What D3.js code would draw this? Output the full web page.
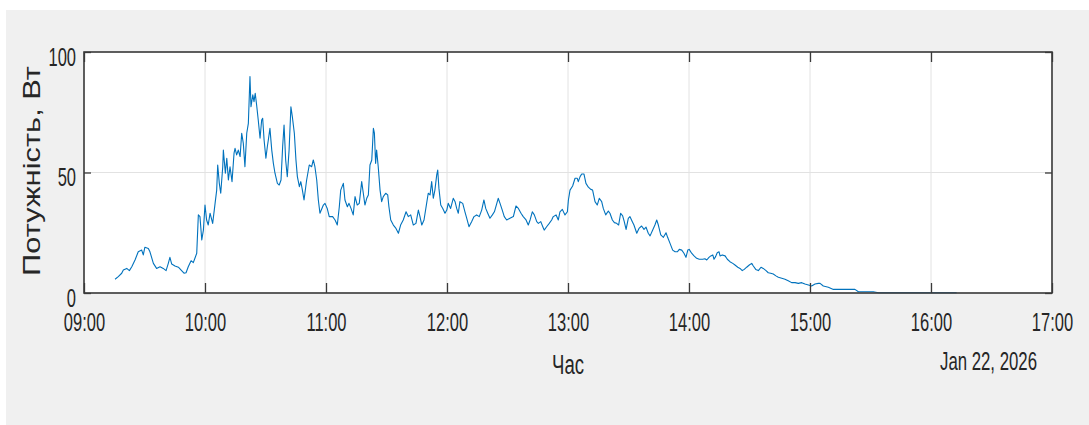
<!DOCTYPE html>
<html>
<head>
<meta charset="utf-8">
<script src="https://cdn.jsdelivr.net/npm/d3@7"></script>
<style>
  body { margin: 0; background: #ffffff; }
  svg { display: block; }
  text { font-family: "Liberation Sans", Arial, sans-serif; fill: #262626; }
</style>
</head>
<body>
<svg id="chart" width="1089" height="425"></svg>
<script>
// Power readings for 22 Jan 2026: minutes after 09:00 and watts
const offsetMin = [
  15.4, 17.0, 18.7, 19.5, 21.2, 22.5, 23.7, 25.3, 26.9, 28.6, 29.4, 30.2, 31.9, 32.7, 34.4, 36.0, 37.7, 39.3, 40.7, 41.8,
  42.6, 43.5, 45.1, 46.8, 48.4, 49.6, 50.6, 51.7, 53.1, 54.2, 55.0, 55.9, 56.7, 57.5, 58.4, 59.2, 60.0, 60.8, 61.6, 62.5,
  63.8, 65.0, 65.8, 66.3, 67.1, 67.8, 68.8, 69.1, 70.1, 70.8, 71.6, 72.4, 73.4, 74.4, 74.9, 75.7, 76.5, 77.4, 78.2, 79.0,
  79.8, 80.7, 81.5, 82.3, 82.8, 83.7, 84.3, 84.9, 85.6, 86.4, 87.3, 88.1, 88.6, 89.3, 90.2, 90.9, 91.4, 92.2, 93.1, 93.9,
  94.7, 95.9, 96.8, 97.7, 98.5, 99.2, 100.0, 100.8, 101.7, 102.6, 103.3, 104.3, 105.1, 105.8, 106.8, 107.5, 108.3, 109.1, 110.4, 111.7,
  112.9, 113.7, 114.5, 115.4, 116.2, 117.0, 118.7, 119.5, 120.6, 121.6, 123.3, 124.5, 125.6, 126.6, 127.3, 128.6, 129.4, 130.6, 131.4, 132.4,
  133.5, 134.4, 135.5, 136.5, 137.7, 138.5, 139.3, 140.2, 141.0, 141.8, 142.7, 143.5, 144.0, 144.6, 145.1, 145.9, 146.8, 147.6, 148.4, 149.6,
  150.6, 151.2, 152.1, 153.4, 154.7, 155.9, 157.0, 158.3, 159.7, 160.8, 162.0, 163.3, 164.6, 165.8, 166.6, 167.5, 168.6, 169.9, 170.7, 171.6,
  172.4, 173.2, 174.0, 174.9, 175.4, 176.0, 176.9, 177.9, 179.0, 179.9, 180.6, 181.8, 183.1, 184.0, 184.8, 185.6, 186.4, 187.8, 188.9, 189.8,
  190.9, 192.2, 193.4, 194.7, 196.0, 197.2, 198.3, 199.2, 200.2, 201.3, 202.5, 203.5, 204.7, 205.4, 206.3, 207.4, 208.4, 209.6, 211.2, 212.9,
  214.2, 215.4, 216.7, 217.8, 219.2, 220.3, 221.2, 222.3, 223.3, 224.5, 225.3, 226.5, 227.5, 228.2, 229.4, 230.7, 231.9, 232.7, 234.1, 235.2,
  236.0, 237.2, 238.5, 239.7, 240.2, 241.0, 242.3, 243.5, 244.6, 245.1, 246.0, 246.8, 247.9, 248.9, 250.1, 251.3, 252.2, 253.4, 254.5, 255.5,
  256.7, 257.5, 258.7, 260.0, 260.8, 262.0, 263.0, 264.1, 265.1, 266.1, 267.1, 267.9, 268.8, 269.9, 270.7, 271.9, 272.7, 274.1, 275.2, 276.5,
  277.7, 278.7, 279.8, 280.7, 282.0, 283.1, 284.0, 284.8, 286.0, 287.3, 288.6, 289.4, 290.6, 291.9, 293.1, 294.2, 295.2, 296.4, 297.5, 298.5,
  299.4, 300.1, 301.3, 302.5, 303.8, 305.1, 306.8, 307.9, 308.8, 309.9, 310.8, 311.8, 312.4, 313.2, 314.0, 314.9, 315.4, 316.5, 317.9, 319.0,
  320.3, 321.7, 322.8, 324.2, 325.3, 326.4, 327.4, 328.6, 329.9, 331.1, 331.9, 333.1, 334.4, 335.7, 336.8, 338.2, 339.3, 340.5, 341.8, 343.1,
  344.3, 346.0, 347.6, 349.2, 350.9, 352.6, 354.2, 355.9, 357.5, 359.2, 360.8, 362.5, 364.1, 365.0, 366.6, 369.1, 371.6, 376.5, 382.3, 384.0,
  391.4, 393.9, 404.6, 421.1, 432.7
];
const power = [
  5.7, 6.8, 8.2, 9.5, 10.2, 9.3, 10.9, 13.7, 17.1, 17.8, 15.8, 19.0, 18.5, 17.1, 12.3, 10.2, 10.9, 10.2, 9.3, 12.3,
  14.8, 12.0, 11.2, 10.7, 9.3, 8.2, 8.4, 10.9, 13.4, 12.6, 14.4, 16.5, 32.4, 31.7, 22.0, 26.1, 36.5, 30.3, 28.2, 33.1,
  28.9, 37.2, 42.7, 53.1, 45.5, 41.4, 52.4, 59.3, 49.7, 55.9, 46.9, 52.4, 46.2, 58.0, 60.0, 57.3, 59.3, 56.6, 66.3, 62.1,
  52.4, 66.3, 70.4, 89.8, 77.3, 82.2, 79.4, 82.9, 78.0, 71.8, 64.2, 71.8, 72.5, 63.5, 55.9, 60.7, 63.5, 68.3, 59.3, 53.8,
  49.7, 45.5, 44.8, 46.9, 60.7, 69.7, 55.2, 48.3, 59.3, 77.3, 73.2, 66.3, 55.2, 48.3, 44.1, 46.2, 42.7, 38.6, 46.9, 53.1,
  52.4, 55.2, 52.4, 46.9, 38.6, 33.1, 36.5, 37.2, 35.1, 31.7, 31.7, 30.3, 28.2, 35.8, 42.7, 45.5, 38.6, 35.8, 37.2, 35.1,
  32.4, 40.0, 36.5, 37.2, 46.2, 41.4, 36.5, 39.3, 40.7, 53.1, 55.2, 68.3, 66.3, 53.8, 59.3, 52.4, 42.7, 37.9, 40.0, 41.4,
  40.7, 35.8, 30.3, 28.2, 26.8, 24.8, 28.2, 30.3, 33.7, 31.7, 32.4, 28.2, 28.9, 34.4, 31.7, 28.2, 30.3, 37.2, 41.4, 40.7,
  46.2, 39.3, 42.7, 49.0, 51.0, 43.4, 36.5, 35.1, 33.1, 34.4, 37.2, 35.1, 39.3, 37.9, 35.1, 33.1, 37.9, 37.2, 33.7, 31.0,
  27.5, 29.6, 31.7, 32.4, 31.7, 34.4, 38.6, 35.1, 33.1, 31.0, 32.4, 33.7, 37.2, 39.3, 37.2, 34.4, 31.7, 30.3, 31.0, 31.7,
  36.1, 35.1, 33.1, 31.7, 30.3, 28.2, 30.3, 33.7, 32.4, 29.6, 28.9, 29.6, 27.5, 26.1, 27.5, 28.9, 30.3, 31.7, 32.4, 30.3,
  33.7, 34.7, 32.4, 33.7, 38.6, 42.7, 44.4, 47.6, 47.6, 46.2, 48.3, 49.4, 49.4, 45.5, 43.9, 43.0, 42.7, 37.9, 36.5, 39.3,
  37.9, 35.1, 32.4, 34.0, 33.1, 30.3, 29.2, 28.9, 28.2, 33.1, 32.0, 29.6, 26.4, 31.0, 31.7, 29.6, 28.2, 24.8, 26.8, 27.8,
  26.4, 27.3, 24.8, 23.7, 26.1, 28.2, 30.3, 28.2, 24.1, 23.1, 25.0, 23.1, 20.6, 17.8, 17.1, 17.1, 18.1, 17.8, 16.5, 14.8,
  17.8, 18.1, 16.5, 15.4, 14.4, 14.0, 14.0, 14.2, 13.7, 14.8, 15.4, 15.8, 14.0, 15.1, 16.7, 17.1, 15.4, 15.8, 15.4, 14.0,
  13.0, 12.3, 11.6, 10.7, 10.2, 9.3, 9.8, 10.7, 11.6, 12.3, 11.2, 9.8, 9.3, 10.7, 10.2, 9.3, 8.4, 8.2, 7.9, 7.1,
  6.5, 6.1, 5.7, 5.1, 4.3, 4.3, 4.0, 4.3, 3.7, 3.3, 2.9, 3.7, 4.0, 4.0, 2.9, 2.4, 1.5, 1.5, 1.5, 0.5,
  0.5, 0.1, 0.1, 0.1, 0.1
];
const yTicks = [0, 50, 100];
const xLabel = "Час";
const yLabel = "Потужність, Вт";
const dateLabel = "Jan 22, 2026";

const start = new Date(2026, 0, 22, 9, 0, 0);
const end = new Date(2026, 0, 22, 17, 0, 0);
const series = offsetMin.map((m, i) => ({ t: new Date(start.getTime() + m * 60000), v: power[i] }));

const svg = d3.select("#chart");
const W = 1089, H = 425;
const box = { left: 84, right: 1052, top: 52, bottom: 293 };
const axisColor = "#3a3a3a";
const gridColor = "#e2e2e2";
const fontSize = 25, squeeze = 0.66;

// figure background
svg.append("rect").attr("x", 6).attr("y", 10).attr("width", W - 6).attr("height", H - 10).attr("fill", "#f0f0f0");
svg.append("rect")
  .attr("x", box.left).attr("y", box.top)
  .attr("width", box.right - box.left).attr("height", box.bottom - box.top)
  .attr("fill", "#ffffff");

const x = d3.scaleTime().domain([start, end]).range([box.left, box.right]);
const y = d3.scaleLinear().domain([0, 100]).range([box.bottom, box.top]);
const hours = d3.timeHour.range(start, d3.timeHour.offset(end, 1));

// grid
const grid = svg.append("g");
grid.selectAll("line.gx").data(hours).join("line")
  .attr("x1", d => x(d)).attr("x2", d => x(d))
  .attr("y1", box.top).attr("y2", box.bottom)
  .attr("stroke", gridColor).attr("stroke-width", 1);
grid.selectAll("line.gy").data(yTicks).join("line")
  .attr("x1", box.left).attr("x2", box.right)
  .attr("y1", d => y(d)).attr("y2", d => y(d))
  .attr("stroke", gridColor).attr("stroke-width", 1);

// power line
svg.append("path")
  .datum(series)
  .attr("fill", "none")
  .attr("stroke", "#0072BD")
  .attr("stroke-width", 1.1)
  .attr("stroke-linejoin", "round")
  .attr("d", d3.line().x(d => x(d.t)).y(d => y(d.v)));

// axes (ticks point inward, box closed on all sides)
const fmt = d3.timeFormat("%H:%M");
const xAxis = svg.append("g").attr("transform", `translate(0,${box.bottom})`)
  .call(d3.axisBottom(x).tickValues(hours).tickFormat(fmt).tickSizeInner(-10).tickSizeOuter(0).tickPadding(0));
const xTop = svg.append("g").attr("transform", `translate(0,${box.top})`)
  .call(d3.axisTop(x).tickValues(hours).tickFormat("").tickSizeInner(-10).tickSizeOuter(0));
const yAxis = svg.append("g").attr("transform", `translate(${box.left},0)`)
  .call(d3.axisLeft(y).tickValues(yTicks).tickSizeInner(-7).tickSizeOuter(0).tickPadding(0));
const yRight = svg.append("g").attr("transform", `translate(${box.right},0)`)
  .call(d3.axisRight(y).tickValues(yTicks).tickFormat("").tickSizeInner(-7).tickSizeOuter(0));

[xAxis, xTop, yAxis, yRight].forEach(g => {
  g.select(".domain").remove();
  g.selectAll(".tick line").attr("stroke", axisColor).attr("stroke-width", 1.3);
});

xAxis.selectAll(".tick text")
  .attr("font-size", fontSize).attr("fill", "#262626")
  .attr("y", 38).attr("dy", 0)
  .attr("transform", `scale(${squeeze},1)`);
yAxis.selectAll(".tick text")
  .attr("font-size", fontSize).attr("fill", "#262626")
  .attr("x", -8 / squeeze).attr("dy", "0.52em")
  .attr("transform", `scale(${squeeze},1)`);

// axes box
svg.append("rect")
  .attr("x", box.left).attr("y", box.top)
  .attr("width", box.right - box.left).attr("height", box.bottom - box.top)
  .attr("fill", "none").attr("stroke", axisColor).attr("stroke-width", 1.6);

// labels
svg.append("text")
  .attr("transform", `translate(${(box.left + box.right) / 2},374)`)
  .attr("text-anchor", "middle").attr("font-size", 27)
  .attr("textLength", 32).attr("lengthAdjust", "spacingAndGlyphs")
  .text(xLabel);

svg.append("text")
  .attr("transform", "translate(1037,370)")
  .attr("text-anchor", "end").attr("font-size", 25)
  .attr("textLength", 97).attr("lengthAdjust", "spacingAndGlyphs")
  .text(dateLabel);

svg.append("text")
  .attr("transform", "translate(40,171) rotate(-90)")
  .attr("text-anchor", "middle").attr("font-size", 23)
  .attr("textLength", 210).attr("lengthAdjust", "spacingAndGlyphs")
  .text(yLabel);
</script>
</body>
</html>
